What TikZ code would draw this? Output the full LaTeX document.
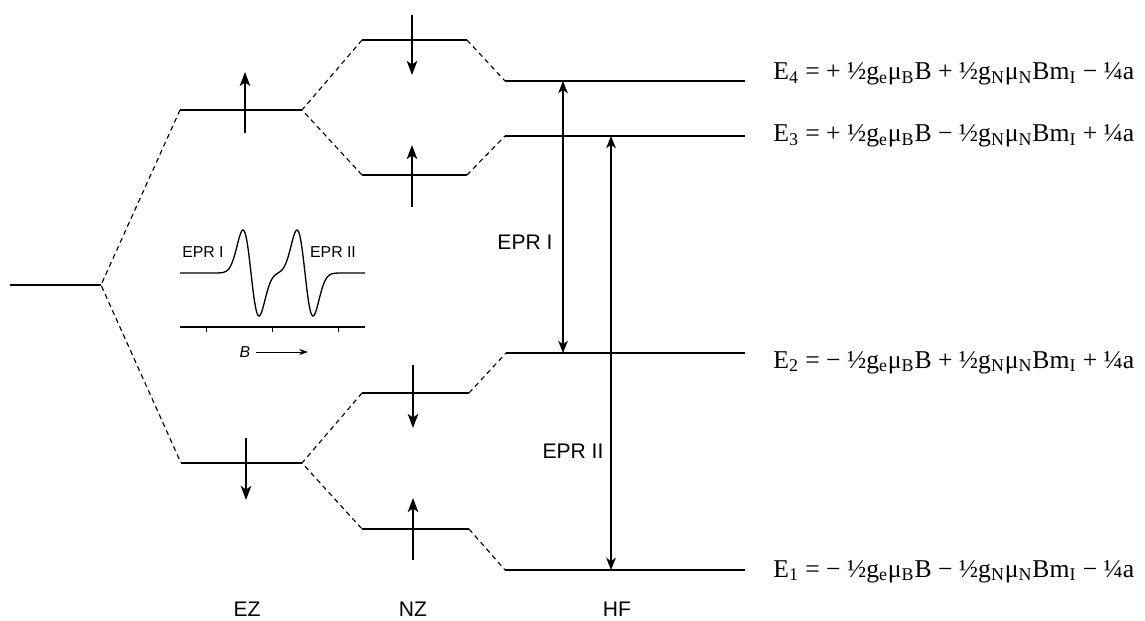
\documentclass[tikz,border=0pt]{standalone}
\usepackage{fontspec}
\setmainfont{Liberation Serif}
\setsansfont{Liberation Sans}
\usetikzlibrary{arrows.meta}

\newcommand{\sbs}[1]{\textsubscript{#1}}

\begin{document}
\begin{tikzpicture}[x=0.02cm,y=-0.02cm,
   lvl/.style={line width=1.2pt},
   cnx/.style={line width=0.65pt,dash pattern=on 2.8pt off 2.2pt},
   spin/.style={line width=0.8pt,-{Stealth[length=8pt,width=6pt,inset=2pt]}},
   trans/.style={line width=0.7pt,{Stealth[length=7pt,width=5.5pt,inset=2pt]}-{Stealth[length=7pt,width=5.5pt,inset=2pt]}},
   lab/.style={font=\sffamily\fontsize{12}{14}\selectfont},
   slab/.style={font=\sffamily\fontsize{9}{11}\selectfont},
   eq/.style={anchor=base west,inner sep=0pt,font=\fontsize{14.6}{17}\selectfont}]
  \useasboundingbox (0,0) rectangle (1145,621);
  % level end points
  \coordinate (g0) at (10,285);  \coordinate (g1) at (101,285);
  \coordinate (a0) at (180,110); \coordinate (a1) at (302,110);
  \coordinate (b0) at (181,463); \coordinate (b1) at (302,463);
  \coordinate (c0) at (362,40);  \coordinate (c1) at (467,40);
  \coordinate (d0) at (362,175); \coordinate (d1) at (467,175);
  \coordinate (e0) at (362,393); \coordinate (e1) at (469,393);
  \coordinate (f0) at (362,529); \coordinate (f1) at (469,529);
  \coordinate (h4) at (505,81);  \coordinate (k4) at (745,81);
  \coordinate (h3) at (505,136); \coordinate (k3) at (745,136);
  \coordinate (h2) at (506,353); \coordinate (k2) at (745,353);
  \coordinate (h1) at (505,570); \coordinate (k1) at (745,570);
  \foreach \p in {g,a,b,c,d,e,f} \draw[lvl] (\p0) -- (\p1);
  \foreach \i in {1,...,4} \draw[lvl] (h\i) -- (k\i);
  % splittings
  \draw[cnx] (a0) -- (g1) -- (b0);
  \draw[cnx] (c0) -- (a1) -- (d0);
  \draw[cnx] (e0) -- (b1) -- (f0);
  \draw[cnx] (c1) -- (h4);
  \draw[cnx] (d1) -- (h3);
  \draw[cnx] (e1) -- (h2);
  \draw[cnx] (f1) -- (h1);
  % spins
  \draw[spin] (245,133) -- (245,72);
  \draw[spin] (246,438) -- (246,500);
  \draw[spin] (412,15) -- (412,75);
  \draw[spin] (412,207) -- (412,145);
  \draw[spin] (413,365) -- (413,428);
  \draw[spin] (413,560) -- (413,498);
  % transitions
  \coordinate (p4) at (563,81);  \coordinate (p2) at (563,353);
  \coordinate (q3) at (611,136); \coordinate (q1) at (611,570);
  \draw[trans] (p4) -- (p2);
  \draw[trans] (q3) -- (q1);
  \node[lab] (epr1) at (525,242) {EPR I};
  \node[lab] (epr2) at (573,451) {EPR II};
  % spectrum
  \draw[line width=0.75pt] plot[domain=180:365,samples=160,smooth]
    (\x,{273-71*(-(\x-251)/8*exp(-0.5*((\x-251)/8)^2)-(\x-305)/8*exp(-0.5*((\x-305)/8)^2))});
  \draw[line width=0.6pt] (180,327) -- (365,327);
  \foreach \t in {206,272,338} \draw[line width=0.5pt] (\t,327) -- (\t,332);
  \node[slab] (s1) at (203,252) {EPR I};
  \node[slab] (s2) at (333,252) {EPR II};
  \node[font=\sffamily\itshape\fontsize{9}{11}\selectfont] (bf) at (245,352) {B};
  \coordinate (ba) at (308,352);
  \draw[line width=0.5pt,-{Stealth[length=5pt,width=3.5pt]}] (bf.east) -- (ba);
  % axis labels
  \node[lab,inner sep=1pt] (ez) at (247,609) {EZ};
  \node[lab,inner sep=1pt] (nz) at (413,609) {NZ};
  \node[lab,inner sep=1pt] (hf) at (617,609) {HF};
  % energies
  \node[eq] (E4) at (773,80)  {E\sbs{4} = + ½g\sbs{e}μ\sbs{B}B + ½g\sbs{N}μ\sbs{N}Bm\sbs{I} − ¼a};
  \node[eq] (E3) at (773,142) {E\sbs{3} = + ½g\sbs{e}μ\sbs{B}B − ½g\sbs{N}μ\sbs{N}Bm\sbs{I} + ¼a};
  \node[eq] (E2) at (773,368) {E\sbs{2} = − ½g\sbs{e}μ\sbs{B}B + ½g\sbs{N}μ\sbs{N}Bm\sbs{I} + ¼a};
  \node[eq] (E1) at (773,577) {E\sbs{1} = − ½g\sbs{e}μ\sbs{B}B − ½g\sbs{N}μ\sbs{N}Bm\sbs{I} − ¼a};
\end{tikzpicture}
\end{document}
